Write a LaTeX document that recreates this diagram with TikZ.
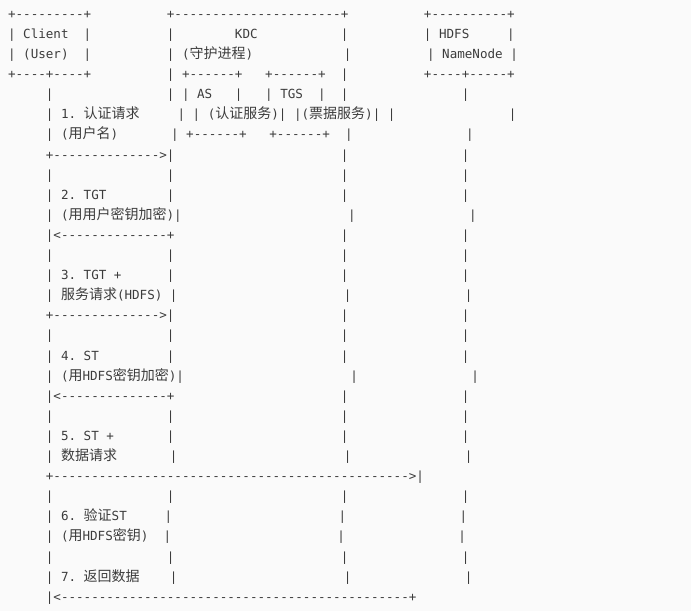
\documentclass[tikz,border=0pt]{standalone}
\usepackage{fontspec}
\setmonofont{DejaVu Sans Mono}
\newfontfamily\cjk[Scale=1.115]{Noto Sans CJK SC}
\usepackage{xcolor}
\usepackage{tikz}
\usetikzlibrary{positioning}

\definecolor{paper}{HTML}{FAFAFA}
\definecolor{ink}{HTML}{3C3C3C}
% blank columns and runs of dashes, in character widths
\newcommand\sk[1]{\hspace*{#1\fontcharwd\font`x}}
\newcommand\dashes[1]{\foreach\k in {1,...,#1}{-}}

\begin{document}
\begin{tikzpicture}[
  line/.style={anchor=base west, inner sep=0pt, text=ink,
    font=\ttfamily\fontsize{12.56pt}{20.1pt}\selectfont},
  nextrow/.style={line, below=20.1pt of #1.base west, anchor=base west}
]
\fill[paper] (0,0) rectangle (691pt,-611pt);
\useasboundingbox (0,0) rectangle (691pt,-611pt);

% boxes: Client, KDC, HDFS NameNode
\node[line] (r0) at (7.9pt,-18.3pt) {+\dashes{9}+\sk{10}+\dashes{22}+\sk{10}+\dashes{10}+};
\node[nextrow=r0] (r1) {| Client\sk{2}|\sk{10}|\sk{8}KDC\sk{11}|\sk{10}| HDFS\sk{5}|};
\node[nextrow=r1] (r2) {| (User)\sk{2}|\sk{10}| ({\cjk 守护进程})\sk{12}|\sk{10}| NameNode |};
\node[nextrow=r2] (r3) {+\dashes{4}+\dashes{4}+\sk{10}| +\dashes{6}+\sk{3}+\dashes{6}+\sk{2}|\sk{10}+\dashes{4}+\dashes{5}+};
\node[nextrow=r3] (r4) {\sk{5}|\sk{15}| | AS\sk{3}|\sk{3}| TGS\sk{2}|\sk{2}|\sk{15}|};
\node[nextrow=r4] (r5) {\sk{5}| 1. {\cjk 认证请求}\sk{5}| | ({\cjk 认证服务})| |({\cjk 票据服务})| |\sk{15}|};
\node[nextrow=r5] (r6) {\sk{5}| ({\cjk 用户名})\sk{7}| +\dashes{6}+\sk{3}+\dashes{6}+\sk{2}|\sk{15}|};

% messages
\node[nextrow=r6] (r7) {\sk{5}+\dashes{14}>|\sk{22}|\sk{15}|};
\node[nextrow=r7] (r8) {\sk{5}|\sk{15}|\sk{22}|\sk{15}|};
\node[nextrow=r8] (r9) {\sk{5}| 2. TGT\sk{8}|\sk{22}|\sk{15}|};
\node[nextrow=r9] (r10) {\sk{5}| ({\cjk 用用户密钥加密})|\sk{22}|\sk{15}|};
\node[nextrow=r10] (r11) {\sk{5}|<\dashes{14}+\sk{22}|\sk{15}|};
\node[nextrow=r11] (r12) {\sk{5}|\sk{15}|\sk{22}|\sk{15}|};
\node[nextrow=r12] (r13) {\sk{5}| 3. TGT +\sk{6}|\sk{22}|\sk{15}|};
\node[nextrow=r13] (r14) {\sk{5}| {\cjk 服务请求}(HDFS) |\sk{22}|\sk{15}|};
\node[nextrow=r14] (r15) {\sk{5}+\dashes{14}>|\sk{22}|\sk{15}|};
\node[nextrow=r15] (r16) {\sk{5}|\sk{15}|\sk{22}|\sk{15}|};
\node[nextrow=r16] (r17) {\sk{5}| 4. ST\sk{9}|\sk{22}|\sk{15}|};
\node[nextrow=r17] (r18) {\sk{5}| ({\cjk 用}HDFS{\cjk 密钥加密})|\sk{22}|\sk{15}|};
\node[nextrow=r18] (r19) {\sk{5}|<\dashes{14}+\sk{22}|\sk{15}|};
\node[nextrow=r19] (r20) {\sk{5}|\sk{15}|\sk{22}|\sk{15}|};
\node[nextrow=r20] (r21) {\sk{5}| 5. ST +\sk{7}|\sk{22}|\sk{15}|};
\node[nextrow=r21] (r22) {\sk{5}| {\cjk 数据请求}\sk{7}|\sk{22}|\sk{15}|};
\node[nextrow=r22] (r23) {\sk{5}+\dashes{47}>|};
\node[nextrow=r23] (r24) {\sk{5}|\sk{15}|\sk{22}|\sk{15}|};
\node[nextrow=r24] (r25) {\sk{5}| 6. {\cjk 验证}ST\sk{5}|\sk{22}|\sk{15}|};
\node[nextrow=r25] (r26) {\sk{5}| ({\cjk 用}HDFS{\cjk 密钥})\sk{2}|\sk{22}|\sk{15}|};
\node[nextrow=r26] (r27) {\sk{5}|\sk{15}|\sk{22}|\sk{15}|};
\node[nextrow=r27] (r28) {\sk{5}| 7. {\cjk 返回数据}\sk{4}|\sk{22}|\sk{15}|};
\node[nextrow=r28] (r29) {\sk{5}|<\dashes{46}+};
\end{tikzpicture}
\end{document}
